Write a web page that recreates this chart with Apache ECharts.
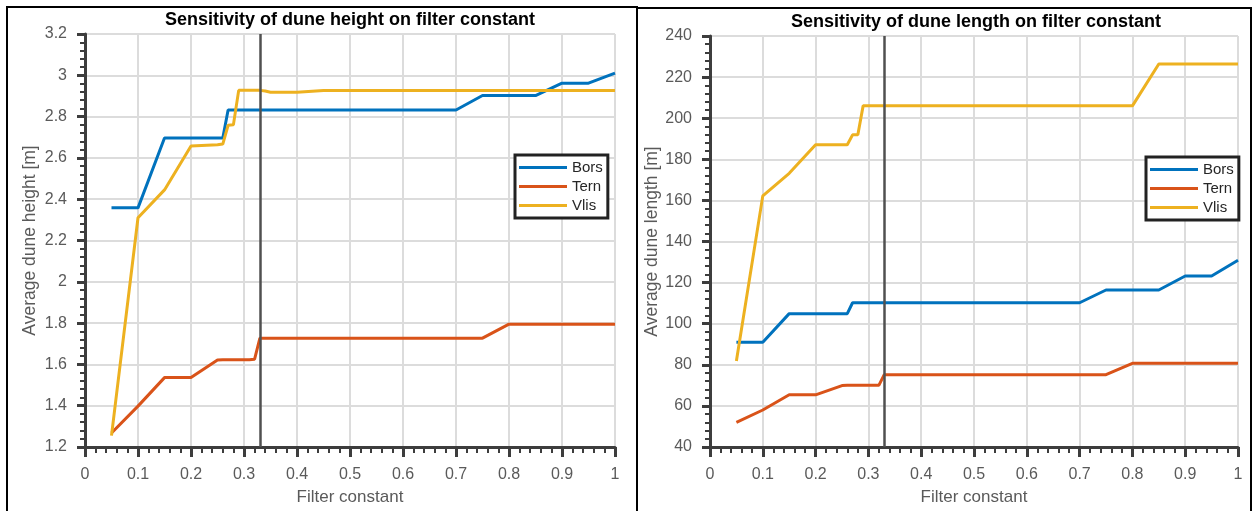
<!DOCTYPE html>
<html>
<head>
<meta charset="utf-8">
<title>Sensitivity of dune dimensions on filter constant</title>
<script src="https://cdn.jsdelivr.net/npm/echarts@6/dist/echarts.min.js"></script>
<style>
  html, body { margin: 0; padding: 0; background: #ffffff; }
  #chart { width: 1253px; height: 511px; }
</style>
</head>
<body>
<div id="chart"></div>
<script>
// Filter constants at which the dune statistics were evaluated
const filterConstants = [0.05, 0.1, 0.15, 0.2, 0.25, 0.26, 0.27, 0.28, 0.29, 0.3, 0.31, 0.32, 0.33, 0.34, 0.35,
  0.4, 0.45, 0.5, 0.55, 0.6, 0.65, 0.7, 0.75, 0.8, 0.85, 0.9, 0.95, 1.0];

// Average dune height [m]
const heightBors = [2.358, 2.358, 2.696, 2.696, 2.696, 2.696, 2.832, 2.832, 2.832, 2.832, 2.832, 2.832, 2.832, 2.832, 2.832,
  2.832, 2.832, 2.832, 2.832, 2.832, 2.832, 2.832, 2.902, 2.902, 2.902, 2.962, 2.962, 3.011];
const heightTern = [1.268, 1.398, 1.536, 1.536, 1.621, 1.622, 1.622, 1.623, 1.623, 1.623, 1.623, 1.625, 1.727, 1.727, 1.727,
  1.727, 1.727, 1.727, 1.727, 1.727, 1.727, 1.727, 1.727, 1.795, 1.795, 1.795, 1.795, 1.795];
const heightVlis = [1.255, 2.31, 2.445, 2.658, 2.664, 2.667, 2.758, 2.76, 2.927, 2.927, 2.927, 2.927, 2.927, 2.924, 2.918,
  2.918, 2.926, 2.926, 2.926, 2.926, 2.926, 2.926, 2.926, 2.926, 2.926, 2.926, 2.926, 2.926];

// Average dune length [m]
const lengthBors = [91.0, 91.0, 104.9, 104.9, 104.9, 104.9, 110.2, 110.2, 110.2, 110.2, 110.2, 110.2, 110.2, 110.2, 110.2,
  110.2, 110.2, 110.2, 110.2, 110.2, 110.2, 110.2, 116.4, 116.4, 116.4, 123.2, 123.2, 130.9];
const lengthTern = [52.0, 58.0, 65.4, 65.4, 69.9, 70.0, 70.0, 70.0, 70.0, 70.0, 70.0, 70.1, 75.2, 75.2, 75.2,
  75.2, 75.2, 75.2, 75.2, 75.2, 75.2, 75.2, 75.2, 80.7, 80.7, 80.7, 80.7, 80.7];
const lengthVlis = [81.8, 162.2, 173.2, 187.1, 187.1, 187.1, 191.9, 191.9, 206.0, 206.0, 206.0, 206.0, 206.0, 206.0, 206.0,
  206.0, 206.0, 206.0, 206.0, 206.0, 206.0, 206.0, 206.0, 206.0, 226.4, 226.4, 226.4, 226.4];

// Selected filter constant, marked with a vertical line
const chosenFilter = 0.333;

const stationNames = ['Bors', 'Tern', 'Vlis'];
const stationColors = ['#0072BD', '#D95319', '#EDB120'];

const titles = ['Sensitivity of dune height on filter constant', 'Sensitivity of dune length on filter constant'];
const yNames = ['Average dune height [m]', 'Average dune length [m]'];
const xName = 'Filter constant';

const FONT = '"Liberation Sans", Arial, Helvetica, sans-serif';
const AXIS_COLOR = '#3d3d3d';
const LABEL_COLOR = '#5a5a5a';
const GRID_COLOR = '#dcdcdc';

function pairs(xs, ys) {
  return xs.map((x, i) => [x, ys[i]]);
}

function xAxisFor(gridIndex) {
  return {
    type: 'value', gridIndex: gridIndex, min: 0, max: 1, interval: 0.1,
    name: xName, nameLocation: 'middle', nameGap: 42,
    nameTextStyle: { fontSize: 17, color: LABEL_COLOR, fontFamily: FONT },
    axisLine: { show: true, onZero: false, lineStyle: { color: AXIS_COLOR, width: 3 } },
    axisTick: { show: true, length: 10, lineStyle: { color: AXIS_COLOR, width: 3 } },
    minorTick: { show: true, splitNumber: 5, length: 6, lineStyle: { color: AXIS_COLOR, width: 2 } },
    axisLabel: { margin: 20, fontSize: 16, color: LABEL_COLOR, fontFamily: FONT },
    splitLine: { show: true, lineStyle: { color: GRID_COLOR, width: 2 } }
  };
}

function yAxisFor(gridIndex, min, max, interval) {
  return {
    type: 'value', gridIndex: gridIndex, min: min, max: max, interval: interval,
    name: yNames[gridIndex], nameLocation: 'middle', nameGap: 46,
    nameTextStyle: { fontSize: 17.5, color: LABEL_COLOR, fontFamily: FONT },
    axisLine: { show: true, onZero: false, lineStyle: { color: AXIS_COLOR, width: 3 } },
    axisTick: { show: true, length: 8, lineStyle: { color: AXIS_COLOR, width: 3 } },
    minorTick: { show: true, splitNumber: 5, length: 5, lineStyle: { color: AXIS_COLOR, width: 2 } },
    axisLabel: { margin: 18, fontSize: 16, color: LABEL_COLOR, fontFamily: FONT },
    splitLine: { show: true, lineStyle: { color: GRID_COLOR, width: 2 } }
  };
}

function seriesFor(gridIndex, valueSets) {
  return valueSets.map((vals, i) => {
    const s = {
      name: stationNames[i], type: 'line',
      xAxisIndex: gridIndex, yAxisIndex: gridIndex,
      data: pairs(filterConstants, vals),
      showSymbol: false, symbol: 'none',
      lineStyle: { color: stationColors[i], width: 3 },
      itemStyle: { color: stationColors[i] },
      z: 3
    };
    if (i === valueSets.length - 1) {
      s.markLine = {
        silent: true, symbol: ['none', 'none'],
        label: { show: false },
        lineStyle: { color: '#505050', width: 2.5, type: 'solid' },
        emphasis: { disabled: true },
        data: [{ xAxis: chosenFilter }],
        z: 5
      };
    }
    return s;
  });
}

function legendFor(left, top) {
  return {
    left: left, top: top, orient: 'vertical',
    data: stationNames, icon: 'rect',
    itemWidth: 48, itemHeight: 3, itemGap: 4,
    padding: [5, 5, 5, 4],
    backgroundColor: '#ffffff',
    borderColor: '#222222', borderWidth: 3, borderRadius: 0,
    selectedMode: false,
    textStyle: { fontSize: 15, color: '#262626', fontFamily: FONT }
  };
}

const chart = echarts.init(document.getElementById('chart'), null, { renderer: 'canvas' });

chart.setOption({
  animation: false,
  backgroundColor: '#ffffff',
  textStyle: { fontFamily: FONT },
  title: [
    { text: titles[0], left: 345, top: 6, textAlign: 'center',
      textStyle: { fontSize: 18, fontWeight: 'bold', color: '#000000', fontFamily: FONT } },
    { text: titles[1], left: 971, top: 8, textAlign: 'center',
      textStyle: { fontSize: 18, fontWeight: 'bold', color: '#000000', fontFamily: FONT } }
  ],
  legend: [legendFor(515, 155), legendFor(1146, 157)],
  grid: [
    { left: 85, right: 638, top: 34, bottom: 64 },
    { left: 710, right: 15, top: 36, bottom: 64 }
  ],
  xAxis: [xAxisFor(0), xAxisFor(1)],
  yAxis: [yAxisFor(0, 1.2, 3.2, 0.2), yAxisFor(1, 40, 240, 20)],
  series: seriesFor(0, [heightBors, heightTern, heightVlis])
    .concat(seriesFor(1, [lengthBors, lengthTern, lengthVlis])),
  graphic: [
    { type: 'rect', silent: true, z: 100,
      shape: { x: 7, y: 7, width: 630, height: 520 },
      style: { fill: null, stroke: '#000000', lineWidth: 2 } },
    { type: 'rect', silent: true, z: 100,
      shape: { x: 637, y: 8, width: 614, height: 520 },
      style: { fill: null, stroke: '#000000', lineWidth: 2 } }
  ]
});
</script>
</body>
</html>
